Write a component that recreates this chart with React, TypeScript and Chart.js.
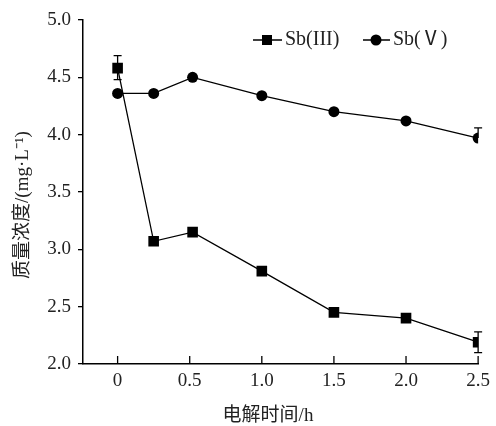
import React, { useEffect, useRef } from "react";
import { Chart, registerables } from "chart.js";

Chart.register(...registerables);

const times = [0, 0.25, 0.52, 1.0, 1.5, 2.0, 2.5];
const sb3Values = [4.58, 3.07, 3.15, 2.81, 2.45, 2.40, 2.19];
const sb5Values = [4.36, 4.36, 4.50, 4.34, 4.20, 4.12, 3.97];
const sb3ErrUp = [0.11, 0, 0, 0, 0, 0, 0.09];
const sb3ErrDown = [0.1, 0, 0, 0, 0, 0, 0.09];
const sb5ErrUp = [0, 0, 0, 0, 0, 0, 0.09];
const sb5ErrDown = [0, 0, 0, 0, 0, 0, 0];
const xTickValues = [0, 0.5, 1.0, 1.5, 2.0, 2.5];
const seriesLabels = ["Sb(III)", "Sb(Ⅴ)"];
const xTitle = "电解时间/h";
const yTitle = "质量浓度/(mg·L⁻¹)";

const SERIF = "'Liberation Serif', 'Times New Roman', 'Noto Sans CJK SC', serif";

export default function App() {
  const ref = useRef<HTMLCanvasElement | null>(null);

  useEffect(() => {
    document.body.style.margin = "0";
    const canvas = ref.current;
    if (!canvas) return;

    const errorBars = {
      id: "errorBars",
      beforeDatasetsDraw(chart: any) {
        const ctx = chart.ctx;
        const xs = chart.scales.x;
        const ys = chart.scales.y;
        const ups = [sb3ErrUp, sb5ErrUp];
        const downs = [sb3ErrDown, sb5ErrDown];
        const vals = [sb3Values, sb5Values];
        ctx.save();
        ctx.strokeStyle = "#000";
        ctx.lineWidth = 1.3;
        vals.forEach((arr, si) => {
          arr.forEach((v, i) => {
            const up = ups[si][i];
            const down = downs[si][i];
            if (!up && !down) return;
            const x = xs.getPixelForValue(times[i]);
            const yc = ys.getPixelForValue(v);
            ctx.beginPath();
            if (up) {
              const yTop = ys.getPixelForValue(v + up);
              ctx.moveTo(x, yc);
              ctx.lineTo(x, yTop);
              ctx.moveTo(x - 4, yTop);
              ctx.lineTo(x + 4, yTop);
            }
            if (down) {
              const yBot = ys.getPixelForValue(v - down);
              ctx.moveTo(x, yc);
              ctx.lineTo(x, yBot);
              ctx.moveTo(x - 4, yBot);
              ctx.lineTo(x + 4, yBot);
            }
            ctx.stroke();
          });
        });
        ctx.restore();
      },
    };

    const decorations = {
      id: "decorations",
      afterDraw(chart: any) {
        const ctx = chart.ctx;
        const xs = chart.scales.x;
        const area = chart.chartArea;
        ctx.save();
        ctx.strokeStyle = "#000";
        ctx.lineWidth = 1.3;
        xTickValues.forEach((v) => {
          const x = xs.getPixelForValue(v);
          ctx.beginPath();
          ctx.moveTo(x, area.bottom);
          ctx.lineTo(x, area.bottom - 8);
          ctx.stroke();
        });
        ctx.fillStyle = "#222";
        ctx.font = `19px ${SERIF}`;
        ctx.textAlign = "center";
        ctx.textBaseline = "middle";
        ctx.fillText(xTitle, 268, 416);
        ctx.save();
        ctx.translate(23, 205);
        ctx.rotate(-Math.PI / 2);
        ctx.fillText(yTitle, 0, 0);
        ctx.restore();
        const ly = 40;
        ctx.lineWidth = 1.3;
        ctx.beginPath();
        ctx.moveTo(253, ly);
        ctx.lineTo(282, ly);
        ctx.moveTo(363, ly);
        ctx.lineTo(390, ly);
        ctx.stroke();
        ctx.fillStyle = "#000";
        ctx.fillRect(267 - 5, ly - 5, 10, 10);
        ctx.beginPath();
        ctx.arc(376, ly, 5.5, 0, Math.PI * 2);
        ctx.fill();
        ctx.fillStyle = "#222";
        ctx.font = `20px ${SERIF}`;
        ctx.textAlign = "left";
        ctx.fillText(seriesLabels[0], 285, ly);
        ctx.fillText(seriesLabels[1], 393, ly);
        ctx.restore();
      },
    };

    const chart = new Chart(canvas, {
      type: "line",
      data: {
        datasets: [
          {
            label: seriesLabels[0],
            data: times.map((t, i) => ({ x: t, y: sb3Values[i] })),
            borderColor: "#000",
            backgroundColor: "#000",
            borderWidth: 1.3,
            pointStyle: "rect",
            pointRadius: 7.5,
            pointBorderWidth: 0,
            tension: 0,
          },
          {
            label: seriesLabels[1],
            data: times.map((t, i) => ({ x: t, y: sb5Values[i] })),
            borderColor: "#000",
            backgroundColor: "#000",
            borderWidth: 1.3,
            pointStyle: "circle",
            pointRadius: 5.5,
            pointBorderWidth: 0,
            tension: 0,
          },
        ],
      },
      options: {
        animation: false,
        responsive: false,
        layout: { padding: { top: 20, right: 12, left: 0, bottom: 0 } },
        plugins: {
          legend: { display: false },
          tooltip: { enabled: false },
        },
        scales: {
          x: {
            type: "linear",
            min: -0.24,
            max: 2.5,
            afterBuildTicks: (scale: any) => {
              scale.ticks = xTickValues.map((v) => ({ value: v }));
            },
            afterFit: (scale: any) => {
              scale.height = 62;
            },
            grid: { display: false, drawTicks: false },
            border: { display: true, color: "#000", width: 1.5 },
            ticks: {
              color: "#222",
              font: { family: SERIF, size: 19 },
              padding: 6,
              maxRotation: 0,
              autoSkip: false,
              callback: (v: any) => (Number(v) === 0 ? "0" : Number(v).toFixed(1)),
            },
          },
          y: {
            min: 2,
            max: 5,
            afterFit: (scale: any) => {
              scale.width = 83;
            },
            grid: {
              drawOnChartArea: false,
              drawTicks: true,
              tickLength: 5,
              color: "#000",
              lineWidth: 1.3,
            },
            border: { display: true, color: "#000", width: 1.5 },
            ticks: {
              stepSize: 0.5,
              color: "#222",
              font: { family: SERIF, size: 19 },
              padding: 7,
              callback: (v: any) => Number(v).toFixed(1),
            },
          },
        },
      },
      plugins: [errorBars, decorations],
    });

    return () => chart.destroy();
  }, []);

  return (
    <div style={{ width: 496, height: 426 }}>
      <canvas ref={ref} width={496} height={426} />
    </div>
  );
}
